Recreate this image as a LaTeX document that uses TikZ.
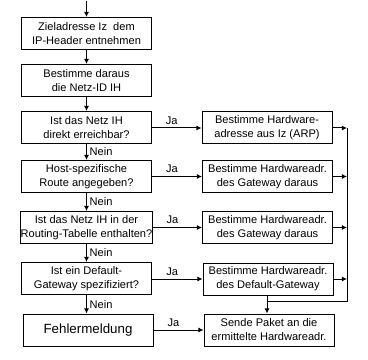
\documentclass[tikz,border=0pt]{standalone}
\usepackage{fontspec}
\setmainfont{Liberation Sans}
\usetikzlibrary{arrows.meta}
\begin{document}
\begin{tikzpicture}[x=0.75pt,y=-0.75pt,
  box/.style={draw,line width=0.75pt,minimum width=97.5pt,minimum height=24pt,inner sep=0pt,align=center,font=\fontsize{8.3}{10.5}\selectfont},
  arr/.style={line width=0.75pt,-{Latex[length=3.8pt,width=3.8pt]}},
  ln/.style={line width=0.75pt},
  lab/.style={font=\fontsize{8.3}{9}\selectfont,inner sep=0pt}]
\useasboundingbox (0,0) rectangle (368,360);
\fill[white] (0,0) rectangle (368,360);
% left column
\node[box] (b1) at (86.5,33.5) {Zieladresse Iz~ dem\\IP-Header entnehmen};
\node[box] (b2) at (86.5,80.5) {Bestimme daraus\\die Netz-ID IH};
\node[box] (b3) at (86.5,127.5) {Ist das Netz IH\\direkt erreichbar?};
\node[box] (b4) at (86.5,176.5) {Host-spezifische\\Route angegeben?};
\node[box] (b5) at (86.5,227.5) {Ist das Netz IH in der\\Routing-Tabelle enthalten?};
\node[box] (b6) at (86.5,278.5) {Ist ein Default-\\Gateway spezifiziert?};
\node[box,font=\fontsize{10}{12}\selectfont] (b7) at (88,330) {Fehlermeldung};
% right column
\node[box] (r1) at (267,128) {Bestimme Hardware-\\adresse aus Iz (ARP)};
\node[box] (r2) at (267.5,176.5) {Bestimme Hardwareadr.\\des Gateway daraus};
\node[box] (r3) at (267.5,227.5) {Bestimme Hardwareadr.\\des Gateway daraus};
\node[box] (r4) at (268,279) {Bestimme Hardwareadr.\\des Default-Gateway};
\node[box] (r5) at (269,330) {Sende Paket an die\\ermittelte Hardwareadr.};
% vertical flow
\coordinate (top) at (86.5,1);
\draw[arr] (top) -- (b1);
\draw[arr] (b1) -- (b2);
\draw[arr] (b2) -- (b3);
\draw[arr] (b3) -- node[lab,right=2pt] {Nein} (b4);
\draw[arr] (b4) -- node[lab,right=2pt] {Nein} (b5);
\draw[arr] (b5) -- node[lab,right=2pt] {Nein} (b6);
\draw[arr] (b6.south -| b7.north) ++(-1.5,0) coordinate (n6) -- node[lab,right=2pt] {Nein} (n6 |- b7.north);
% Ja arrows
\draw[arr] (b3.east |- r1.west) -- node[lab,above=2.5pt,pos=0.4] {Ja} (r1.west);
\draw[arr] (b4.east) -- node[lab,above=2.5pt,pos=0.4] {Ja} (r2.west);
\draw[arr] (b5.east) -- node[lab,above=2.5pt,pos=0.4] {Ja} (r3.west);
\draw[arr] (b6.east |- r4.west) -- node[lab,above=2.5pt,pos=0.4] {Ja} (r4.west);
\draw[arr] (b7.east) -- node[lab,above=2.5pt,pos=0.4] {Ja} (r5.west);
% bus
\coordinate (bt) at (347,128);
\coordinate (bb) at (347,301);
\coordinate (j) at (267,301);
\draw[arr] (r1.east) -- (bt);
\draw[arr] (r2.east) -- (r2.east -| bt);
\draw[arr] (r3.east) -- (r3.east -| bt);
\draw[arr] (r4.east) -- (r4.east -| bt);
\draw[ln] (bt) -- (bb) -- (j);
\draw[ln] (j |- r4.south) -- (j);
\draw[arr] (j) -- (j |- r5.north);
\end{tikzpicture}
\end{document}
